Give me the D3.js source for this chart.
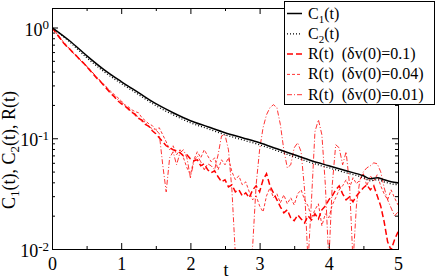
<!DOCTYPE html>
<html>
<head>
<meta charset="utf-8">
<script src="https://cdn.jsdelivr.net/npm/d3@7"></script>
<style>
  body { margin: 0; background: #fff; }
  svg { display: block; font-family: "Liberation Serif", "Times New Roman", serif; }
</style>
</head>
<body>
<div id="chart"></div>
<script>
var svgWidth = 436;
var svgHeight = 280;

var margin = { top: 8, right: 38, bottom: 31, left: 52 };
var width = svgWidth - margin.left - margin.right;
var height = svgHeight - margin.top - margin.bottom;

// smooth correlation functions, read at coarse times
var tCoarse = [0, 0.25, 0.5, 0.75, 1, 1.25, 1.5, 1.75, 2, 2.25, 2.5, 2.75, 3, 3.25, 3.5, 3.75, 4, 4.25, 4.5, 4.6, 4.7, 4.8, 4.9, 5];
var c1Values = [1.0, 0.763, 0.558, 0.417, 0.325, 0.258, 0.205, 0.170, 0.144, 0.127, 0.112, 0.101, 0.0910, 0.0803, 0.0709, 0.0626, 0.0564, 0.0508, 0.0458, 0.0431, 0.0440, 0.0422, 0.0404, 0.0396];
var c2Values = [1.0, 0.747, 0.535, 0.400, 0.312, 0.248, 0.197, 0.163, 0.138, 0.122, 0.1075, 0.0969, 0.0873, 0.0771, 0.0680, 0.0600, 0.0541, 0.0488, 0.0440, 0.0413, 0.0422, 0.0404, 0.0388, 0.0380];

// R(t) curves, one value every 0.05 from t = 0 to t = 5
var tStep = 0.05;
var rDv01 = [
  1.000, 0.901, 0.829, 0.747, 0.687, 0.646, 0.594, 0.558, 0.514, 0.482,
  0.444, 0.409, 0.376, 0.346, 0.325, 0.299, 0.275, 0.253, 0.237, 0.218,
  0.205, 0.195, 0.186, 0.172, 0.165, 0.151, 0.146, 0.133, 0.128, 0.117,
  0.110, 0.101, 0.0930, 0.0855, 0.0820, 0.0787, 0.0771, 0.0739, 0.0694, 0.0709,
  0.0652, 0.0626, 0.0639, 0.0564, 0.0588, 0.0519, 0.0488, 0.0508, 0.0449, 0.0404,
  0.0422, 0.0364, 0.0380, 0.0328, 0.0342, 0.0302, 0.0321, 0.0290, 0.0342, 0.0372,
  0.0328, 0.0422, 0.0478, 0.0372, 0.0321, 0.0278, 0.0240, 0.0212, 0.0226, 0.0191,
  0.0180, 0.0203, 0.0187, 0.0172, 0.0199, 0.0183, 0.0208, 0.0187, 0.0226, 0.0245,
  0.0278, 0.0302, 0.0342, 0.0372, 0.0315, 0.0278, 0.0296, 0.0267, 0.0302, 0.0328,
  0.0357, 0.0380, 0.0342, 0.0372, 0.0302, 0.0245, 0.0176, 0.0116, 0.0098, 0.0121,
  0.0143
];
var rDv004 = [
  1.000, 0.920, 0.829, 0.763, 0.702, 0.646, 0.607, 0.558, 0.524, 0.482,
  0.453, 0.417, 0.384, 0.353, 0.332, 0.305, 0.286, 0.264, 0.248, 0.233,
  0.218, 0.201, 0.193, 0.181, 0.174, 0.170, 0.153, 0.144, 0.135, 0.130,
  0.1195, 0.1245, 0.1075, 0.0930, 0.0787, 0.0855, 0.0709, 0.0787, 0.0666, 0.0541,
  0.0468, 0.0639, 0.0755, 0.0666, 0.0787, 0.0694, 0.0613, 0.0666, 0.0519, 0.0639,
  0.0576, 0.0666, 0.0498, 0.0422, 0.0458, 0.0380, 0.0404, 0.0328, 0.0278, 0.0302,
  0.0245, 0.0216, 0.0302, 0.0357, 0.0290, 0.0315, 0.0261, 0.0308, 0.0256, 0.0290,
  0.0250, 0.0315, 0.0342, 0.0278, 0.0245, 0.0191, 0.0226, 0.0256, 0.0162, 0.0208,
  0.0191, 0.0250, 0.0290, 0.0342, 0.0372, 0.0422, 0.0357, 0.0440, 0.0388, 0.0422,
  0.0478, 0.0372, 0.0458, 0.0413, 0.0468, 0.0372, 0.0315, 0.0278, 0.0342, 0.0290,
  0.0250
];
var rDv001 = [
  1.000, 0.901, 0.812, 0.747, 0.687, 0.632, 0.594, 0.547, 0.514, 0.473,
  0.444, 0.409, 0.384, 0.353, 0.325, 0.305, 0.281, 0.258, 0.242, 0.223,
  0.214, 0.197, 0.181, 0.177, 0.160, 0.157, 0.141, 0.141, 0.127, 0.122,
  0.1195, 0.110, 0.0576, 0.0328, 0.0666, 0.0755, 0.0576, 0.0739, 0.0787, 0.0666,
  0.0440, 0.0613, 0.0694, 0.0613, 0.0519, 0.0588, 0.0564, 0.0519, 0.0709, 0.105,
  0.1075, 0.0787, 0.0342, 0.0088, 0.0043, 0.0035, 0.0043, 0.0065, 0.0107, 0.0380,
  0.0787, 0.1245, 0.163, 0.189, 0.201, 0.189, 0.133, 0.0787, 0.0541, 0.0576,
  0.0820, 0.0910, 0.0755, 0.0342, 0.0076, 0.0278, 0.1145, 0.147, 0.1075, 0.0380,
  0.0076, 0.0380, 0.0873, 0.0820, 0.0576, 0.0755, 0.0380, 0.0076, 0.0250, 0.0422,
  0.0498, 0.0541, 0.0564, 0.0600, 0.0588, 0.0498, 0.0357, 0.0278, 0.0235, 0.0199,
  0.0216
];

var xTicks = [0, 1, 2, 3, 4, 5];
var xMinorTicks = [0.5, 1.5, 2.5, 3.5, 4.5];
var yTicks = [0.01, 0.1, 1];
var yExponents = ["-2", "-1", "0"];
var yMinorTicks = [0.02, 0.03, 0.04, 0.05, 0.06, 0.07, 0.08, 0.09, 0.2, 0.3, 0.4, 0.5, 0.6, 0.7, 0.8, 0.9];

// legend rows: pieces of text, the second one (if any) is a subscript
var legendLabels = [["C", "1", "(t)"], ["C", "2", "(t)"], ["R(t)  (\u03b4v(0)=0.1)"], ["R(t)  (\u03b4v(0)=0.04)"], ["R(t)  (\u03b4v(0)=0.01)"]];

var svg = d3.select("#chart")
  .append("svg")
  .attr("width", svgWidth)
  .attr("height", svgHeight);

var chartGroup = svg.append("g")
  .attr("transform", `translate(${margin.left}, ${margin.top})`);

var xScale = d3.scaleLinear().domain([0, 5]).range([0, width]);
var yScale = d3.scaleLog().domain([0.01, 1.5]).range([height, 0]);

svg.append("clipPath").attr("id", "plotClip")
  .append("rect").attr("width", width).attr("height", height + 1);

// axes: ticks point inward on all four sides
function tidy(g, size) {
  g.select(".domain").remove();
  g.selectAll("text").attr("font-size", size).attr("font-family", "Liberation Serif, serif").attr("fill", "#000");
  g.selectAll("line").attr("stroke", "#000");
}

chartGroup.append("g")
  .attr("transform", `translate(0, ${height})`)
  .call(d3.axisBottom(xScale).tickValues(xTicks).tickSize(-6).tickPadding(8).tickFormat(d3.format("d")))
  .call(g => tidy(g, 18));
chartGroup.append("g")
  .attr("transform", `translate(0, ${height})`)
  .call(d3.axisBottom(xScale).tickValues(xMinorTicks).tickSize(-3).tickFormat(""))
  .call(g => tidy(g, 18));
chartGroup.append("g")
  .call(d3.axisTop(xScale).tickValues(xTicks).tickSize(-6).tickFormat(""))
  .call(g => tidy(g, 18));
chartGroup.append("g")
  .call(d3.axisTop(xScale).tickValues(xMinorTicks).tickSize(-3).tickFormat(""))
  .call(g => tidy(g, 18));

var yAxisG = chartGroup.append("g")
  .call(d3.axisLeft(yScale).tickValues(yTicks).tickSize(-6).tickPadding(3).tickFormat(() => ""))
  .call(g => tidy(g, 18));
yAxisG.selectAll(".tick text").attr("dy", "0.42em").each(function (d, i) {
  var txt = d3.select(this);
  txt.append("tspan").text("10");
  txt.append("tspan").attr("dy", "-0.5em").attr("font-size", 13).text(yExponents[i]);
});
chartGroup.append("g")
  .call(d3.axisLeft(yScale).tickValues(yMinorTicks).tickSize(-3).tickFormat(""))
  .call(g => tidy(g, 18));
chartGroup.append("g")
  .attr("transform", `translate(${width}, 0)`)
  .call(d3.axisRight(yScale).tickValues(yTicks).tickSize(-6).tickFormat(""))
  .call(g => tidy(g, 18));
chartGroup.append("g")
  .attr("transform", `translate(${width}, 0)`)
  .call(d3.axisRight(yScale).tickValues(yMinorTicks).tickSize(-3).tickFormat(""))
  .call(g => tidy(g, 18));

// curves
var plotG = chartGroup.append("g").attr("clip-path", "url(#plotClip)");

var smoothLine = d3.line()
  .x((d, i) => xScale(tCoarse[i]))
  .y(d => yScale(d))
  .curve(d3.curveMonotoneX);
var noisyLine = d3.line()
  .x((d, i) => xScale(i * tStep))
  .y(d => yScale(d));

var series = [
  { values: rDv001, line: noisyLine, color: "#ff0000", width: 0.8, dash: "5,2,1,2" },
  { values: rDv004, line: noisyLine, color: "#ff0000", width: 0.8, dash: "3,2" },
  { values: rDv01, line: noisyLine, color: "#ff0000", width: 1.5, dash: "6,3" },
  { values: c2Values, line: smoothLine, color: "#000", width: 1.3, dash: "1,2" },
  { values: c1Values, line: smoothLine, color: "#000", width: 1.5, dash: null }
];

series.forEach(s => {
  plotG.append("path")
    .attr("d", s.line(s.values))
    .attr("fill", "none")
    .attr("stroke", s.color)
    .attr("stroke-width", s.width)
    .attr("stroke-dasharray", s.dash);
});

// frame
chartGroup.append("rect")
  .attr("x", 0.5).attr("y", 0.5)
  .attr("width", width).attr("height", height)
  .attr("fill", "none")
  .attr("stroke", "#000");

// axis titles
chartGroup.append("text")
  .attr("x", width / 2 + 1)
  .attr("y", height + 27)
  .attr("text-anchor", "middle")
  .attr("font-size", 18)
  .text("t");

var yTitle = svg.append("text")
  .attr("transform", "translate(15, 150) rotate(-90)")
  .attr("text-anchor", "middle")
  .attr("font-size", 18)
  .style("white-space", "pre");
[["C", "1", "(t), "], ["C", "2", "(t), "], ["R(t)"]].forEach(p => {
  yTitle.append("tspan").text(p[0]);
  if (p.length > 1) {
    yTitle.append("tspan").attr("dy", 4).attr("font-size", 13).text(p[1]);
    yTitle.append("tspan").attr("dy", -4).text(p[2]);
  }
});

// legend
var legendG = svg.append("g");
legendG.append("rect")
  .attr("x", 284.5).attr("y", 1.5)
  .attr("width", 150).attr("height", 103)
  .attr("fill", "#fff")
  .attr("stroke", "#000");

var legendOrder = [series[4], series[3], series[2], series[1], series[0]];
legendLabels.forEach((lab, i) => {
  var rowY = 13.5 + i * 20.3;
  var s = legendOrder[i];
  legendG.append("line")
    .attr("x1", 287).attr("x2", 302)
    .attr("y1", rowY).attr("y2", rowY)
    .attr("stroke", s.color)
    .attr("stroke-width", s.width)
    .attr("stroke-dasharray", s.dash);
  var txt = legendG.append("text")
    .attr("x", 308).attr("y", rowY + 5)
    .attr("font-size", 16)
    .style("white-space", "pre");
  txt.append("tspan").text(lab[0]);
  if (lab.length > 1) {
    txt.append("tspan").attr("dy", 4).attr("font-size", 11).text(lab[1]);
    txt.append("tspan").attr("dy", -4).text(lab[2]);
  }
});
</script>
</body>
</html>
